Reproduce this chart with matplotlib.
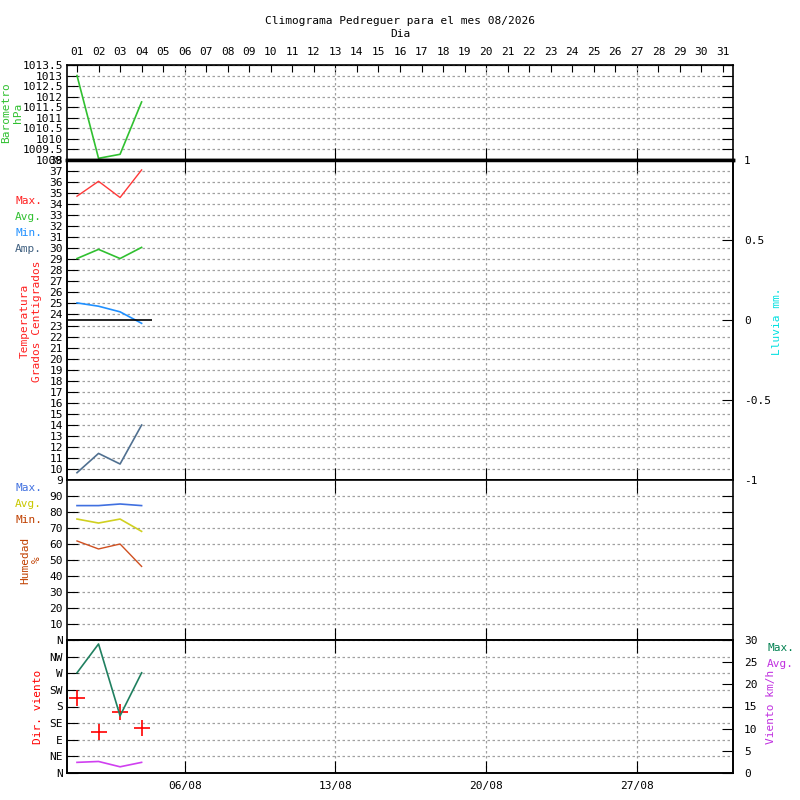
import numpy as np
import matplotlib
matplotlib.use('Agg')
import matplotlib.pyplot as plt

plt.rcParams['font.family'] = ['DejaVu Sans Mono']
plt.rcParams['font.size'] = 8

# datos del mes (dias 1..4)
days = [1, 2, 3, 4]
baro = [1013.0, 1009.08, 1009.27, 1011.75]
temp_max = [34.72, 36.07, 34.6, 37.1]
temp_avg = [29.07, 29.9, 29.07, 30.08]
temp_min = [25.05, 24.75, 24.24, 23.2]
temp_amp = [9.66, 11.41, 10.45, 13.98]
lluvia = [0, 0, 0, 0]
hum_max = [84, 84, 85, 84]
hum_avg = [75.6, 73.1, 75.6, 67.9]
hum_min = [61.9, 56.9, 60.0, 46.0]
wind_max = [22.6, 29.1, 12.9, 22.6]
wind_avg = [2.4, 2.6, 1.4, 2.4]
wind_dir = [202, 111, 166, 122]

month_days = list(range(1, 32))
week_days = [6, 13, 20, 27]
week_labels = ['06/08', '13/08', '20/08', '27/08']
dir_labels = ['N', 'NE', 'E', 'SE', 'S', 'SW', 'W', 'NW', 'N']

grid_kw = dict(color='#a0a0a0', linestyle=(0, (2, 2)), linewidth=0.9)

fig = plt.figure(figsize=(8, 8), dpi=100)
L, W = 67/800, 666/800


def panel(top, bottom):
    ax = fig.add_axes([L, (800-bottom)/800, W, (bottom-top)/800])
    ax.set_xlim(1 - 10/21.533, 31 + 10/21.533)
    ax.set_xticks(week_days)
    ax.set_xticklabels([])
    ax.tick_params(axis='x', direction='in', length=9, top=True, bottom=True)
    ax.tick_params(axis='y', direction='in', length=8, pad=3)
    ax.xaxis.grid(True, **grid_kw)
    ax.yaxis.grid(True, **grid_kw)
    ax.set_axisbelow(True)
    for s in ax.spines.values():
        s.set_linewidth(1.2)
    return ax


# Barometro
ax1 = panel(65, 160)
ax1.plot(days, baro, color='#30c030', lw=1.2)
ax1.set_ylim(1009, 1013.5)
bt = np.arange(1009, 1013.51, 0.5)
ax1.set_yticks(bt)
ax1.set_yticklabels([f'{v:g}' for v in bt])
ax1.tick_params(axis='y', right=True)
ax1.tick_params(axis='x', top=False)
ax1.spines['bottom'].set_linewidth(2.5)
top = ax1.secondary_xaxis('top')
top.set_xticks(month_days)
top.set_xticklabels([f'{d:02d}' for d in month_days])
top.tick_params(direction='in', length=5, pad=6)

# Temperatura
ax2 = panel(160, 480)
ax2.plot(days, temp_max, color='#ff3838', lw=1)
ax2.plot(days, temp_avg, color='#30c030', lw=1.2)
ax2.plot(days, temp_min, color='#2090ff', lw=1.2)
ax2.plot(days, temp_amp, color='#507090', lw=1.2)
ax2.set_ylim(9, 38)
ax2.set_yticks(range(9, 39))
ax2.spines['top'].set_linewidth(2.5)
ax2r = ax2.twinx()
edges = np.append(np.array(days) - 0.5, days[-1] + 0.5)
ax2r.stairs(lluvia, edges, baseline=None, color='black', lw=1.2)
ax2r.set_ylim(-1, 1)
ax2r.set_yticks([-1, -0.5, 0, 0.5, 1])
ax2r.set_yticklabels(['-1', '-0.5', '0', '0.5', '1'])
ax2r.tick_params(axis='y', direction='in', length=8, pad=8)
for s in ax2r.spines.values():
    s.set_linewidth(1.2)

# Humedad
ax3 = panel(480, 640)
ax3.plot(days, hum_max, color='#4070e0', lw=1.2)
ax3.plot(days, hum_avg, color='#d0d020', lw=1.2)
ax3.plot(days, hum_min, color='#d05020', lw=1)
ax3.set_ylim(0, 100)
ax3.set_yticks(range(10, 100, 10))
ax3.tick_params(axis='y', right=True)

# Viento
ax4 = panel(640, 773)
ax4.set_ylim(0, 360)
ax4.set_yticks(range(0, 361, 45))
ax4.set_yticklabels(dir_labels)
ax4.plot(days, wind_dir, linestyle='none', marker='+', color='red',
         markersize=11, mew=1.2)
ax4.set_xticklabels(week_labels)
ax4.tick_params(axis='x', pad=6)
ax4r = ax4.twinx()
ax4r.plot(days, wind_max, color='#208060', lw=1.2)
ax4r.plot(days, wind_avg, color='#d040f0', lw=1.2)
ax4r.set_ylim(0, 30)
ax4r.set_yticks(range(0, 31, 5))
ax4r.tick_params(axis='y', direction='in', length=8, pad=8)
for s in ax4r.spines.values():
    s.set_linewidth(1.2)


def ft(x, y, s, **kw):
    fig.text(x/800, 1 - y/800, s, **kw)


ft(400, 21, 'Climograma Pedreguer para el mes 08/2026', ha='center', va='center')
ft(400, 34, 'Dia', ha='center', va='center')

ft(12, 113, 'Barometro\nhPa', color='#30c030', rotation=90, ha='center',
   va='center', multialignment='center', linespacing=1.2)
ft(31, 321, 'Temperatura\nGrados Centigrados', color='#ff2020', rotation=90,
   ha='center', va='center', multialignment='center', linespacing=1.2)
for name, col, y in [('Max.', '#ff2020', 201.5), ('Avg.', '#30c030', 217.5),
                     ('Min.', '#2090ff', 233), ('Amp.', '#406080', 249)]:
    ft(15, y, name, color=col, ha='left', va='center')
for name, col, y in [('Max.', '#4070e0', 488), ('Avg.', '#c8c800', 504),
                     ('Min.', '#c04000', 520)]:
    ft(15, y, name, color=col, ha='left', va='center')
ft(31, 560, 'Humedad\n%', color='#c04000', rotation=90, ha='center',
   va='center', multialignment='center', linespacing=1.2)
ft(38, 707, 'Dir. viento', color='red', rotation=90, ha='center', va='center')
ft(777, 321, 'Lluvia mm.', color='#00e0e0', rotation=90, ha='center', va='center')
ft(767, 648, 'Max.', color='#008050', ha='left', va='center')
ft(767, 664, 'Avg.', color='#c030e0', ha='left', va='center')
ft(771, 707, 'Viento km/h', color='#c030e0', rotation=90, ha='center', va='center')

fig.savefig('out.png', dpi=100)
